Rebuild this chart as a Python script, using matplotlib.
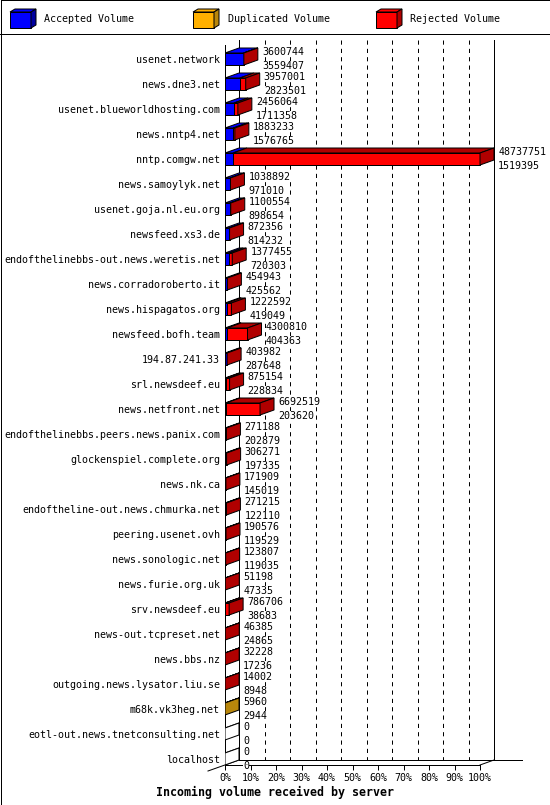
import numpy as np
import matplotlib
matplotlib.use('Agg')
import matplotlib.pyplot as plt
from matplotlib.patches import Polygon

servers = [
    'usenet.network', 'news.dne3.net', 'usenet.blueworldhosting.com', 'news.nntp4.net',
    'nntp.comgw.net', 'news.samoylyk.net', 'usenet.goja.nl.eu.org', 'newsfeed.xs3.de',
    'endofthelinebbs-out.news.weretis.net', 'news.corradoroberto.it', 'news.hispagatos.org',
    'newsfeed.bofh.team', '194.87.241.33', 'srl.newsdeef.eu', 'news.netfront.net',
    'endofthelinebbs.peers.news.panix.com', 'glockenspiel.complete.org', 'news.nk.ca',
    'endoftheline-out.news.chmurka.net', 'peering.usenet.ovh', 'news.sonologic.net',
    'news.furie.org.uk', 'srv.newsdeef.eu', 'news-out.tcpreset.net', 'news.bbs.nz',
    'outgoing.news.lysator.liu.se', 'm68k.vk3heg.net', 'eotl-out.news.tnetconsulting.net',
    'localhost',
]
total = [3600744, 3957001, 2456064, 1883233, 48737751, 1038892, 1100554, 872356,
         1377455, 454943, 1222592, 4300810, 403982, 875154, 6692519, 271188, 306271,
         171909, 271215, 190576, 123807, 51198, 786706, 46385, 32228, 14002, 5960, 0, 0]
accepted = [3559407, 2823501, 1711358, 1576765, 1519395, 971010, 898654, 814232,
            720303, 425562, 419049, 404363, 287648, 228834, 203620, 202879, 197335,
            145019, 122110, 119529, 119035, 47335, 38683, 24865, 17236, 8948, 2944, 0, 0]
duplicated = [0, 0, 0, 0, 0, 0, 0, 0, 0, 0, 0, 0, 0, 0, 0, 0, 0, 0, 0, 0, 0, 0, 0, 0,
              0, 0, 3016, 0, 0]
xtick_labels = ['0%', '10%', '20%', '30%', '40%', '50%', '60%', '70%', '80%', '90%', '100%']

total = np.array(total, dtype=float)
accepted = np.array(accepted, dtype=float)
duplicated = np.array(duplicated, dtype=float)
rejected = total - accepted - duplicated
vmax = total.max()

# colours: front, top, side
front = {'acc': '#0000ff', 'dup': '#ffb000', 'rej': '#ff0000'}
top = {'acc': '#0000ff', 'dup': '#ffb000', 'rej': '#b00000'}
side = {'acc': '#0000a0', 'dup': '#b8860b', 'rej': '#b00000'}

LW = 0.72
MONO = 'DejaVu Sans Mono'
FS = 7.2
plt.rcParams['lines.scale_dashes'] = False

fig = plt.figure(figsize=(5.5, 8.05), dpi=100)

# overlay in pixel coords for frame and legend
bg = fig.add_axes([0, 0, 1, 1], zorder=0)
bg.set_xlim(0, 550)
bg.set_ylim(805, 0)
bg.axis('off')
bg.plot([0.5, 549.5, 549.5, 0.5, 0.5], [0.5, 0.5, 804.5, 804.5, 0.5], color='black', lw=LW)
bg.plot([0, 550], [34.5, 34.5], color='black', lw=LW)

legend_items = [('acc', 'Accepted Volume', 10), ('dup', 'Duplicated Volume', 193),
                ('rej', 'Rejected Volume', 376)]
for key, name, bx in legend_items:
    bg.add_patch(Polygon([(bx, 12), (bx + 21, 12), (bx + 21, 28), (bx, 28)],
                         facecolor=front[key], edgecolor='black', lw=LW))
    bg.add_patch(Polygon([(bx, 12), (bx + 21, 12), (bx + 26, 9), (bx + 5, 9)],
                         facecolor=front[key], edgecolor='black', lw=LW))
    bg.add_patch(Polygon([(bx + 21, 12), (bx + 21, 28), (bx + 26, 25), (bx + 26, 9)],
                         facecolor=side[key], edgecolor='black', lw=LW))
    bg.text(bx + 34.5, 19.5, name, family=MONO, fontsize=FS, va='center', ha='left')

# main chart: x in percent of max volume, y in rows
ax = fig.add_axes([225 / 550, 40 / 805, 297 / 550, 729 / 805], zorder=1)
ax.set_facecolor('none')
ax.set_xlim(0, 116.47)
ax.set_ylim(28.24, -0.92)
for s in ax.spines.values():
    s.set_visible(False)

DX = 14 / 2.55
DY = -0.2
H = 0.24
n = len(servers)
yb = n - 1 + H          # front floor
ytop_f = -0.56
ytop_b = ytop_f + DY

# grid and frame lines
for k in range(1, 10):
    ax.plot([10 * k + DX] * 2, [ytop_b, yb + DY], color='black', lw=LW,
            dashes=(3, 3), zorder=1)
ax.plot([DX, DX], [ytop_b, yb + DY], color='black', lw=LW, zorder=1)
ax.plot([100 + DX] * 2, [ytop_b, yb + DY], color='black', lw=LW, zorder=1)
ax.plot([0, 0], [ytop_f, yb], color='black', lw=LW, zorder=2)
ax.plot([0, 100], [yb, yb], color='black', lw=LW, clip_on=False, zorder=2)
ax.plot([DX, 116.47], [yb + DY, yb + DY], color='black', lw=LW, clip_on=False, zorder=2)
ax.plot([-6.67, DX], [yb + 0.24, yb + DY], color='black', lw=LW, clip_on=False, zorder=2)
ax.plot([100, 100 + DX], [yb, yb + DY], color='black', lw=LW, clip_on=False, zorder=2)

# bars
for i in range(n):
    parts = [('acc', accepted[i]), ('dup', duplicated[i]), ('rej', rejected[i])]
    left = 0.0
    last = None
    for key, v in parts:
        w = v / vmax * 100
        if w <= 0:
            continue
        ax.barh(i, w, left=left, height=2 * H, color=front[key], edgecolor='black',
                linewidth=LW, zorder=3)
        ax.add_patch(Polygon([(left, i - H), (left + w, i - H),
                              (left + w + DX, i - H + DY), (left + DX, i - H + DY)],
                             facecolor=top[key], edgecolor='black', lw=LW, zorder=3))
        left += w
        last = key
    sc = side[last] if last else 'white'
    if last is None:
        ax.plot([0, 0], [i - H, i + H], color='black', lw=LW, zorder=3)
        ax.plot([0, DX], [i - H, i - H + DY], color='black', lw=LW, zorder=3)
    ax.add_patch(Polygon([(left, i - H), (left, i + H), (left + DX, i + H + DY),
                          (left + DX, i - H + DY)],
                         facecolor=sc, edgecolor='black', lw=LW, zorder=3))
    tx = left + DX + 1.6
    for dy, val in ((-0.27, total[i]), (0.27, accepted[i])):
        ax.text(tx, i + dy, str(int(val)), family=MONO, fontsize=FS, va='center',
                ha='left', zorder=4, clip_on=False,
                bbox=dict(facecolor='white', edgecolor='none', pad=0))

ax.set_yticks(range(n))
ax.set_yticklabels(servers, family=MONO, fontsize=FS)
ax.tick_params(axis='y', length=0, pad=3.6)
ax.set_xticks(range(0, 101, 10))
ax.set_xticklabels(xtick_labels, family=MONO, fontsize=FS)
ax.tick_params(axis='x', length=3.6, width=LW, pad=2.0, direction='out')

ax.text(-27.06, 29.32, 'Incoming volume received by server', family=MONO,
        fontsize=8.4, fontweight='bold', va='center', ha='left', clip_on=False)

fig.savefig('out.png', dpi=100)
